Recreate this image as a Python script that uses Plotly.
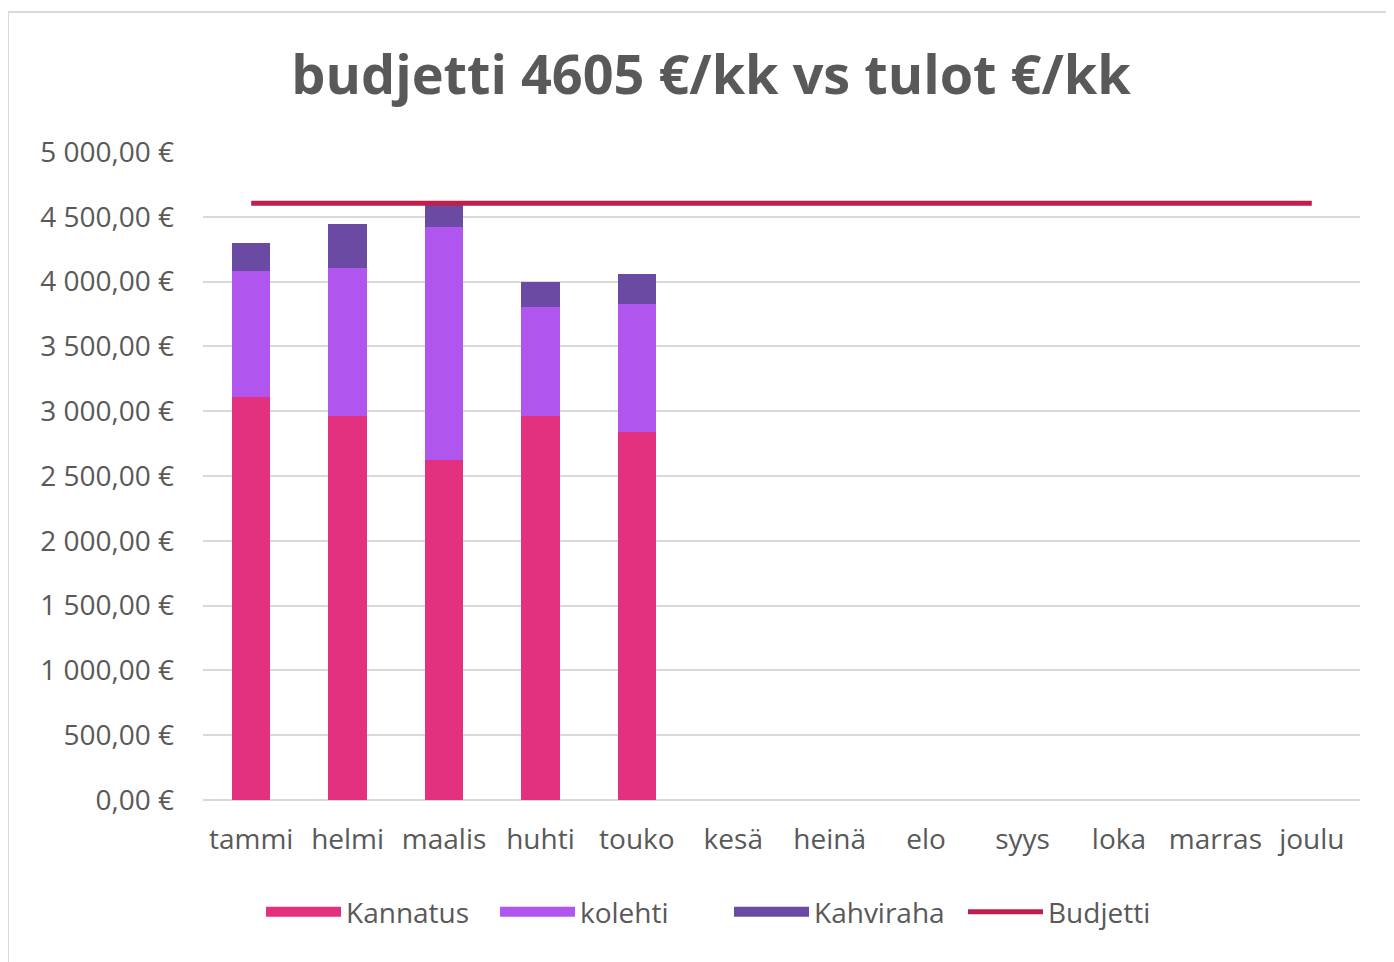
import plotly.graph_objects as go

months = ["tammi", "helmi", "maalis", "huhti", "touko", "kesä", "heinä", "elo", "syys", "loka", "marras", "joulu"]
kannatus = [3110, 2965, 2625, 2965, 2840, None, None, None, None, None, None, None]
kolehti = [975, 1140, 1795, 840, 990, None, None, None, None, None, None, None]
kahviraha = [210, 340, 170, 195, 230, None, None, None, None, None, None, None]
budjetti = [4605] * 12

ytick_vals = [0, 500, 1000, 1500, 2000, 2500, 3000, 3500, 4000, 4500, 5000]
ytick_text = ["0,00 €", "500,00 €", "1 000,00 €", "1 500,00 €", "2 000,00 €", "2 500,00 €",
              "3 000,00 €", "3 500,00 €", "4 000,00 €", "4 500,00 €", "5 000,00 €"]

FONT = "'Open Sans', Lato, sans-serif"
GREY = "#595959"
C_KANN = "#e3307f"
C_KOL = "#b055ee"
C_KAHV = "#6a4aa3"
C_BUD = "#c01f4b"

fig = go.Figure()
fig.add_trace(go.Bar(name="Kannatus", x=months, y=kannatus, showlegend=False, legendgroup="k",
                     marker=dict(color=C_KANN, line=dict(width=0))))
fig.add_trace(go.Bar(name="kolehti", x=months, y=kolehti, showlegend=False, legendgroup="o",
                     marker=dict(color=C_KOL, line=dict(width=0))))
fig.add_trace(go.Bar(name="Kahviraha", x=months, y=kahviraha, showlegend=False, legendgroup="h",
                     marker=dict(color=C_KAHV, line=dict(width=0))))
fig.add_trace(go.Scatter(name="Budjetti", x=months, y=budjetti, mode="lines", showlegend=False,
                         legendgroup="b", line=dict(color=C_BUD, width=5)))

# legend entries (wide swatches like the original)
for nm, col, w, grp in [("Kannatus", C_KANN, 15, "k"), ("kolehti", C_KOL, 15, "o"),
                        ("Kahviraha", C_KAHV, 15, "h"), ("Budjetti", C_BUD, 5, "b")]:
    fig.add_trace(go.Scatter(name=nm, x=[None], y=[None], mode="lines", legendgroup=grp,
                             line=dict(color=col, width=w), showlegend=True))

OFF = 8  # page body offset
W, H = 1386, 954
L = 203 - OFF
T = 152 - OFF
R = W - (1360 - OFF)
B = H - (800 - OFF)
pw, ph = W - L - R, H - T - B

def px_x(p):
    return (p - OFF - L) / pw

def px_y(p):
    return (H - B - (p - OFF)) / ph

fig.add_shape(type="rect", xref="paper", yref="paper",
              x0=px_x(8), x1=px_x(1420), y0=px_y(1000), y1=px_y(12),
              line=dict(color="#d9d9d9", width=2), fillcolor="rgba(0,0,0,0)", layer="below")

fig.update_layout(
    width=W, height=H,
    margin=dict(l=L, r=R, t=T, b=B, autoexpand=False),
    paper_bgcolor="white", plot_bgcolor="white",
    barmode="stack", bargap=0.6,
    font=dict(family=FONT, color=GREY, size=28),
    title=dict(text="<b>budjetti 4605 €/kk vs tulot €/kk</b>", x=(711 - OFF) / W,
               xanchor="center", y=1 - (75 - OFF) / H, yanchor="middle",
               font=dict(family=FONT, size=54, color=GREY)),
    legend=dict(orientation="h", x=px_x(261), xanchor="left", y=px_y(912), yanchor="middle",
                font=dict(size=28, color=GREY), itemwidth=75, traceorder="normal",
                entrywidth=144, entrywidthmode="pixels"),
    xaxis=dict(showgrid=False, showline=False, ticks="", ticklabelstandoff=20,
               tickfont=dict(size=28, color=GREY)),
    yaxis=dict(range=[0, 5000], tickvals=ytick_vals, ticktext=ytick_text,
               showgrid=True, gridcolor="#d9d9d9", gridwidth=1.5,
               zeroline=True, zerolinecolor="#d9d9d9", zerolinewidth=1.5,
               ticks="", ticklabelstandoff=28, tickfont=dict(size=28, color=GREY)),
)

fig.write_html("out.html")
